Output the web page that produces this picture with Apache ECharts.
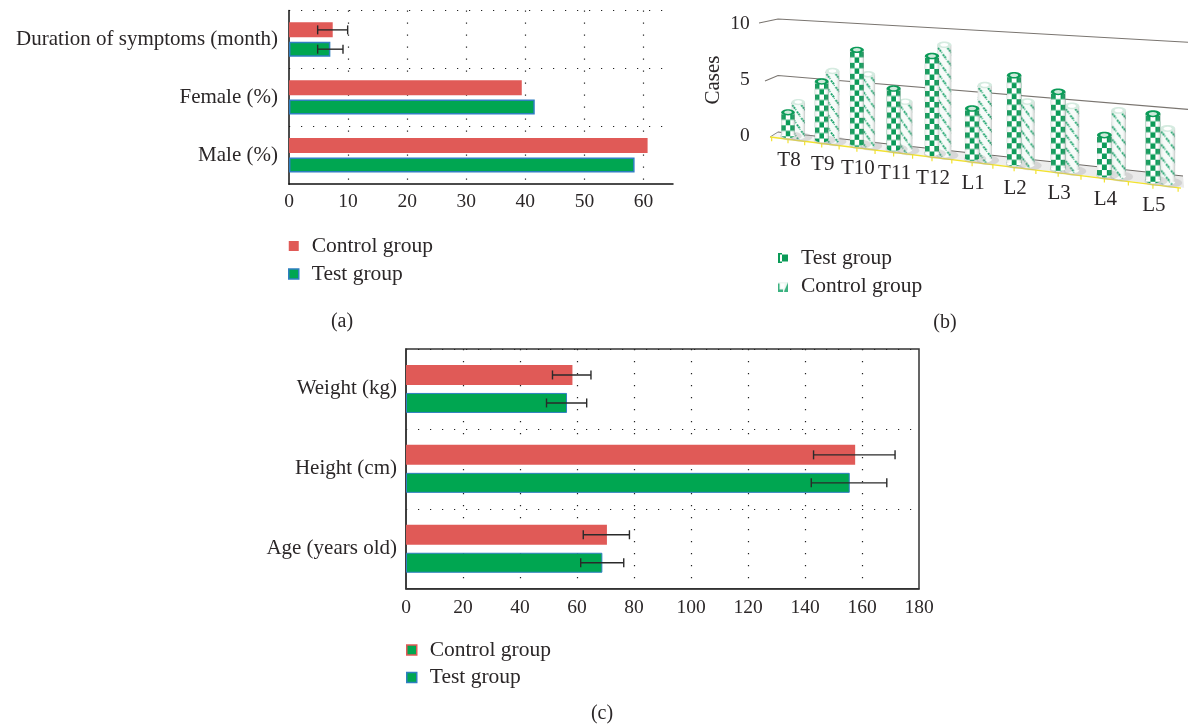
<!DOCTYPE html>
<html><head><meta charset="utf-8">
<style>html,body{margin:0;padding:0;background:#fff}#c{width:1188px;height:726px}</style>
<script src="https://cdn.jsdelivr.net/npm/echarts@6/dist/echarts.min.js"></script>
</head><body><div id="c"></div>
<script>
// ---- data ----
const catA = ['Male (%)', 'Female (%)', 'Duration of symptoms (month)'];
const controlA = [60.7, 39.4, 7.4];
const testA = [58.5, 41.6, 7.0];
const controlErrA = [[2, 4.85, 9.93]];
const testErrA = [[2, 4.85, 9.14]];
const ticksA = [0, 10, 20, 30, 40, 50, 60];

const catB = ['T8', 'T9', 'T10', 'T11', 'T12', 'L1', 'L2', 'L3', 'L4', 'L5'];
const testB = [2, 5, 8, 5, 8, 4, 7, 6, 3, 5];
const controlB = [3, 6, 6, 4, 9, 6, 5, 5, 5, 4];
const ticksB = [0, 5, 10];

const catC = ['Age (years old)', 'Height (cm)', 'Weight (kg)'];
const controlC = [70.5, 157.6, 58.4];
const testC = [68.9, 155.7, 56.5];
const controlErrC = [[0, 62.2, 78.4], [1, 143, 171.6], [2, 51.4, 64.9]];
const testErrC = [[0, 61.3, 76.4], [1, 142.2, 168.7], [2, 49.3, 63.4]];
const ticksC = [0, 20, 40, 60, 80, 100, 120, 140, 160, 180];

// ---- style ----
const FONT = '"Liberation Serif", serif';
const INK = '#2b2728';
const RED = '#e05a57', GREEN = '#00a651', BLUE = '#2f7fc1', DGREEN = '#0b9b58';
const FS = 21, FS_LEG = 21.5, FS_TICK = 19.5, FS_CAP = 20;
const dots = {color: '#222', width: 1.2, type: [1.2, 10.8]};
const txt = {fontFamily: FONT, fontSize: FS, color: INK};
const tickTxt = {fontFamily: FONT, fontSize: FS_TICK, color: INK};

function makeCanvas(w, h, draw) {
  const c = document.createElement('canvas'); c.width = w; c.height = h;
  draw(c.getContext('2d')); return c;
}
const checker = makeCanvas(10, 11, g => {
  g.fillStyle = '#fff'; g.fillRect(0, 0, 10, 11);
  g.fillStyle = DGREEN;
  g.fillRect(0, 0, 5, 5.5); g.fillRect(5, 5.5, 5, 5.5);
});
const dashes = makeCanvas(10, 13, g => {
  g.fillStyle = '#f7fbf9'; g.fillRect(0, 0, 10, 13);
  g.strokeStyle = '#12a066'; g.lineWidth = 2;
  g.setLineDash([2, 0.8]);
  g.beginPath(); g.moveTo(1, 1); g.lineTo(5, 6); g.stroke();
  g.beginPath(); g.moveTo(6, 7.5); g.lineTo(10, 12.5); g.stroke();
});
const iconTest = 'image://' + makeCanvas(20, 20, g => {
  g.fillStyle = '#fff'; g.fillRect(0, 0, 20, 20);
  g.fillStyle = DGREEN; g.fillRect(0, 0, 4, 20); g.fillRect(8, 3, 12, 14); g.fillRect(4, 0, 4, 3); g.fillRect(4, 17, 4, 3);
}).toDataURL();
const iconControl = 'image://' + makeCanvas(20, 20, g => {
  g.fillStyle = '#eef7f2'; g.fillRect(0, 0, 20, 20);
  g.fillStyle = '#3bb280'; g.fillRect(0, 4, 3, 16); g.fillRect(0, 16, 10, 4);
  g.beginPath(); g.moveTo(20, 2); g.lineTo(20, 20); g.lineTo(12, 20); g.closePath(); g.fill();
  g.fillStyle = '#fff'; g.fillRect(5, 4, 8, 10);
}).toDataURL();

// ---- 3D-look projection for panel (b) ----
const projB = {
  x(u) { return 788 + 33.03 * u / (1 - 0.0206 * u); },
  unit(X) { return 11.3 + (X - 778) * 2.1 / 405; },
  back(X) { return 132 + (X - 778) * 0.1086; },
  front(X) { return 137 + (X - 770) * 0.1244; },
  base(X) { return 135 + (X - 788) * 0.1233; },
  uOf(px, cs) { return (px - cs.x) / cs.width * catB.length - 0.5; }
};
function cylinder(params, api, image, isTest) {
  const cs = params.coordSys;
  const p0 = api.coord([api.value(0), 0]);
  const p1 = api.coord([api.value(0), api.value(1)]);
  const u = projB.uOf(p0[0], cs);
  const t = (u + 0.5) / catB.length;
  const cx0 = projB.x(u);
  const w = 13.5 + 1.5 * t;
  const X = isTest ? cx0 : cx0 + 10 + 5 * t;
  const by = projB.base(X);
  const h = (p0[1] - p1[1]) * projB.unit(X) / (cs.height / 10);
  const ty = by - h;
  const ry = w * 0.23, rx = w / 2;
  const pattern = {image, repeat: 'repeat', x: X - rx, y: ty + 2, scaleX: w / 15, scaleY: 1};
  const shade = {type: 'linear', x: 0, y: 0, x2: 1, y2: 0, colorStops: [
    {offset: 0, color: 'rgba(120,120,120,0.2)'},
    {offset: 0.3, color: 'rgba(255,255,255,0)'},
    {offset: 0.72, color: 'rgba(255,255,255,0)'},
    {offset: 1, color: 'rgba(90,90,90,0.32)'}]};
  return {type: 'group', children: [
    {type: 'ellipse', shape: {cx: X + 3, cy: by + 1, rx: rx + 4, ry: ry + 1.5}, style: {fill: 'rgba(170,170,170,0.35)'}},
    {type: 'ellipse', shape: {cx: X, cy: by, rx, ry}, style: {fill: pattern}},
    {type: 'rect', shape: {x: X - rx, y: ty, width: w, height: h}, style: {fill: pattern}},
    {type: 'rect', shape: {x: X - rx, y: ty, width: w, height: h}, style: {fill: shade}},
    {type: 'ellipse', shape: {cx: X, cy: ty, rx, ry}, style: {fill: isTest ? DGREEN : '#d5ebe0'}},
    {type: 'ellipse', shape: {cx: X, cy: ty, rx: rx * 0.55, ry: ry * 0.55}, style: {fill: isTest ? '#cfeadc' : '#fff'}}
  ]};
}
function floorItem(params, api) {
  const xR = projB.x(9.5);
  const children = [
    {type: 'polygon', shape: {points: [[770, 137], [778, 132], [1183, 176], [xR + 6, projB.front(xR)]]},
      style: {fill: {type: 'linear', x: 0, y: 0, x2: 1, y2: 0, colorStops: [{offset: 0, color: '#f6f6f6'}, {offset: 1, color: '#e9e9e9'}]}}},
    {type: 'line', shape: {x1: 770, y1: 137, x2: 778, y2: 132}, style: {stroke: '#8a8a8a', lineWidth: 1}},
    {type: 'line', shape: {x1: 778, y1: 132, x2: 1183, y2: 176}, style: {stroke: '#6f6a66', lineWidth: 1}},
    {type: 'line', shape: {x1: 770, y1: projB.front(770), x2: 1181, y2: projB.front(1181)}, style: {stroke: '#f2e22e', lineWidth: 1.5}}
  ];
  for (let k = -0.5; k <= 9.5; k += 0.5) {
    const X = projB.x(k);
    children.push({type: 'line', shape: {x1: X, y1: projB.front(X), x2: X, y2: projB.front(X) + 4}, style: {stroke: '#f2e22e', lineWidth: 1.2}});
  }
  return {type: 'group', children};
}
function wallItem(params, api) {
  const v = api.value(0);
  if (v === 0) return null;
  const lx = v === 10 ? 759 : 765;
  const ly = v === 10 ? 23 : 81;
  const X0 = 778, X1 = 1188;
  const y0 = projB.back(X0) - v * projB.unit(X0);
  const y1 = projB.back(X1) - v * projB.unit(X1);
  return {type: 'polyline', shape: {points: [[lx, ly], [X0, y0], [X1, y1]]}, style: {fill: null, stroke: '#7a7570', lineWidth: 1.1}};
}
function xLabelItem(params, api) {
  const p = api.coord([api.value(0), 0]);
  const X = projB.x(projB.uOf(p[0], params.coordSys));
  return {type: 'text', style: {text: catB[api.value(0)], x: X + 1, y: projB.front(X) + 21, align: 'center', verticalAlign: 'middle', font: FS + 'px ' + FONT, fill: INK}};
}

// ---- error bars ----
function errItem(offset, capH) {
  return function (params, api) {
    const a = api.coord([api.value(1), api.value(0)]);
    const b = api.coord([api.value(2), api.value(0)]);
    const y = a[1] + offset;
    const st = {stroke: '#2a2a2a', lineWidth: 1.4};
    return {type: 'group', children: [
      {type: 'line', shape: {x1: a[0], y1: y, x2: b[0], y2: y}, style: st},
      {type: 'line', shape: {x1: a[0], y1: y - capH / 2, x2: a[0], y2: y + capH / 2}, style: st},
      {type: 'line', shape: {x1: b[0], y1: y - capH / 2, x2: b[0], y2: y + capH / 2}, style: st}
    ]};
  };
}
function errSeries(gridIdx, data, offset, capH) {
  return {type: 'custom', name: 'Error', xAxisIndex: gridIdx, yAxisIndex: gridIdx, z: 5, silent: true,
    renderItem: errItem(offset, capH), encode: {x: [1, 2], y: 0}, data};
}
function bar(gridIdx, name, data, isTest, barWidth, barGap, bw) {
  return {type: 'bar', name, xAxisIndex: gridIdx, yAxisIndex: gridIdx, data, barWidth, barGap, z: 3,
    itemStyle: isTest ? {color: GREEN, borderColor: BLUE, borderWidth: bw} : {color: RED}};
}
function legend(left, top, items, gap) {
  return {left, top, padding: 0, orient: 'vertical', align: 'left', itemWidth: 10, itemHeight: 10, itemGap: gap, selectedMode: false,
    textStyle: {fontFamily: FONT, fontSize: FS_LEG, color: INK, padding: [0, 0, 0, 8], lineHeight: 21},
    data: items};
}
const caption = (text, x, y) => ({type: 'text', x, y, style: {text, font: FS_CAP + 'px ' + FONT, fill: INK, align: 'center', verticalAlign: 'middle'}});

const valueAxis = (gridIndex, max, interval, ticks, line, margin) => ({
  type: 'value', gridIndex, min: 0, max, interval,
  axisLine: {show: true, onZero: false, lineStyle: {color: line, width: 1.5}},
  axisTick: {show: false},
  axisLabel: Object.assign({}, tickTxt, {margin, formatter: v => ticks.includes(v) ? String(v) : ''}),
  splitLine: {show: true, showMinLine: false, showMaxLine: false, lineStyle: dots}
});
const catAxis = (gridIndex, data, line, margin) => ({
  type: 'category', gridIndex, data,
  axisLine: {show: true, lineStyle: {color: line, width: 1.5}},
  axisTick: {show: false},
  axisLabel: Object.assign({}, txt, {margin, interval: 0}),
  splitLine: {show: true, showMinLine: false, lineStyle: dots}
});

const option = {
  animation: false,
  backgroundColor: '#fff',
  textStyle: {fontFamily: FONT},
  grid: [
    {left: 289, top: 10.6, width: 384, height: 173.6},
    {left: projB.x(-0.5), top: 24, width: projB.x(9.5) - projB.x(-0.5), height: 112},
    {left: 406, top: 349, width: 513, height: 239.7, show: true, borderColor: '#333', borderWidth: 1.5, backgroundColor: 'transparent'}
  ],
  xAxis: [
    valueAxis(0, 65, 10, ticksA, '#111', 8),
    {type: 'category', gridIndex: 1, data: catB, show: false},
    valueAxis(2, 180, 20, ticksC, '#333', 9)
  ],
  yAxis: [
    catAxis(0, catA, '#111', 11),
    {type: 'value', gridIndex: 1, min: 0, max: 10, interval: 5, name: 'Cases', nameLocation: 'middle', nameGap: 48, nameRotate: 90,
      nameTextStyle: txt,
      axisLine: {show: false}, axisTick: {show: false}, splitLine: {show: false},
      axisLabel: Object.assign({}, tickTxt, {margin: 22})},
    catAxis(2, catC, '#333', 9)
  ],
  legend: [
    legend(288, 235, [
      {name: 'Control group', icon: 'rect', itemStyle: {color: RED, borderWidth: 0}},
      {name: 'Test group', icon: 'rect', itemStyle: {color: GREEN, borderColor: BLUE, borderWidth: 1.5}}
    ], 6),
    legend(778, 247, [
      {name: 'Test group', icon: iconTest, itemStyle: {color: DGREEN, borderWidth: 0}},
      {name: 'Control group', icon: iconControl, itemStyle: {color: '#eee', borderWidth: 0}}
    ], 6.5),
    legend(406, 639, [
      {name: 'Control group', icon: 'rect', itemStyle: {color: GREEN, borderColor: RED, borderWidth: 1.5}},
      {name: 'Test group', icon: 'rect', itemStyle: {color: GREEN, borderColor: BLUE, borderWidth: 1.5}}
    ], 5.5)
  ],
  graphic: [caption('(a)', 342, 322), caption('(b)', 945, 323), caption('(c)', 602, 714)],
  series: [
    bar(0, 'Control group', controlA, false, 15, '29%', 0),
    bar(0, 'Test group', testA, true, 15, '29%', 1.5),
    errSeries(0, controlErrA, -9.65, 9),
    errSeries(0, testErrA, 9.65, 9),

    {type: 'custom', name: 'Floor', xAxisIndex: 1, yAxisIndex: 1, z: 1, silent: true, renderItem: floorItem, data: [[0, 0]], encode: {x: 0, y: 1}, clip: false},
    {type: 'custom', name: 'Wall', xAxisIndex: 1, yAxisIndex: 1, z: 1, silent: true, renderItem: wallItem, data: ticksB.map(v => [v]), encode: {y: 0}, clip: false},
    {type: 'custom', name: 'Axis labels', xAxisIndex: 1, yAxisIndex: 1, z: 2, silent: true, renderItem: xLabelItem, data: catB.map((c, i) => [i, 0]), encode: {x: 0, y: 1}, clip: false},
    {type: 'custom', name: 'Control group', xAxisIndex: 1, yAxisIndex: 1, z: 3, silent: true,
      renderItem: (p, a) => cylinder(p, a, dashes, false), data: controlB.map((v, i) => [i, v]), encode: {x: 0, y: 1}, clip: false},
    {type: 'custom', name: 'Test group', xAxisIndex: 1, yAxisIndex: 1, z: 4, silent: true,
      renderItem: (p, a) => cylinder(p, a, checker, true), data: testB.map((v, i) => [i, v]), encode: {x: 0, y: 1}, clip: false},

    bar(2, 'Control group', controlC, false, 20, '40%', 0),
    bar(2, 'Test group', testC, true, 20, '40%', 1),
    errSeries(2, controlErrC, -14, 9),
    errSeries(2, testErrC, 14, 9)
  ]
};
const chart = echarts.init(document.getElementById('c'), null, {renderer: 'canvas'});
chart.setOption(option);
</script></body></html>
